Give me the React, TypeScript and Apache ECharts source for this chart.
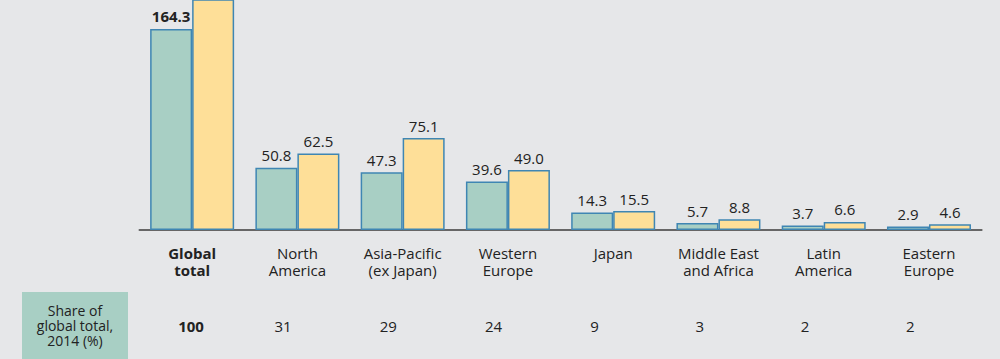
import React, { useEffect, useRef } from "react";
import * as echarts from "echarts";

const categories = [
  "Global\ntotal",
  "North\nAmerica",
  "Asia-Pacific\n(ex Japan)",
  "Western\nEurope",
  "Japan",
  "Middle East\nand Africa",
  "Latin\nAmerica",
  "Eastern\nEurope",
];
const series2014 = [164.3, 50.8, 47.3, 39.6, 14.3, 5.7, 3.7, 2.9];
const seriesLater = [222.1, 62.5, 75.1, 49.0, 15.5, 8.8, 6.6, 4.6];
const shareOfGlobal = [100, 31, 29, 24, 9, 3, 2, 2];
const shareTitle = "Share of\nglobal total,\n2014 (%)";

const FONT = "'Open Sans', 'Noto Sans', sans-serif";
const TEXT = "#222222";
const GREEN = "#a8cfc4";
const YELLOW = "#fedf98";
const BORDER = "#3f86b3";

export default function App() {
  const ref = useRef<HTMLDivElement>(null);
  useEffect(() => {
    if (!ref.current) return;
    const chart = echarts.init(ref.current, null, { renderer: "svg" });
    const baseline = 230;
    const yMax = 188; // visible part of the value axis (chart is cropped at top)
    chart.setOption({
      animation: false,
      backgroundColor: "#e6e7e9",
      textStyle: { fontFamily: FONT },
      grid: { left: 139.5, right: 18.4, top: 0, bottom: 359 - baseline },
      xAxis: [
        {
          type: "category",
          data: categories,
          axisLine: { show: true, lineStyle: { color: "#666666", width: 2 } },
          axisTick: { show: false },
          axisLabel: {
            interval: 0,
            margin: 14,
            color: TEXT,
            fontSize: 15,
            lineHeight: 17,
            fontFamily: FONT,
            formatter: (v: string, i: number) =>
              i === 0
                ? v
                    .split("\n")
                    .map((s) => `{b|${s}}`)
                    .join("\n")
                : v,
            rich: {
              b: { fontWeight: "bold", fontSize: 15, lineHeight: 17, color: TEXT, fontFamily: FONT },
            },
          },
        },
        {
          type: "category",
          gridIndex: 0,
          position: "bottom",
          offset: 80,
          data: categories,
          axisLine: { show: false },
          axisTick: { show: false },
          splitLine: { show: false },
          axisLabel: {
            interval: 0,
            margin: 7,
            color: TEXT,
            fontSize: 15,
            lineHeight: 18,
            formatter: (_v: string, i: number) =>
              i === 0 ? `{b|${shareOfGlobal[i]}}` : `{n|${shareOfGlobal[i]}}`,
            rich: {
              b: {
                fontWeight: "bold",
                fontSize: 15,
                width: 28,
                align: "left",
                color: TEXT,
                fontFamily: FONT,
              },
              n: { fontSize: 15, width: 46, align: "left", color: TEXT, fontFamily: FONT },
            },
          },
        },
      ],
      yAxis: {
        type: "value",
        min: 0,
        max: yMax,
        show: false,
        splitLine: { show: false },
      },
      series: [
        {
          type: "bar",
          data: series2014.map((v, i) => ({
            value: v,
            label: i === 0 ? { fontWeight: "bold" } : undefined,
          })),
          barWidth: 42,
          barGap: "0%",
          clip: true,
          itemStyle: { color: GREEN, borderColor: BORDER, borderWidth: 1.5 },
          label: {
            show: true,
            position: "top",
            distance: 5,
            color: TEXT,
            fontSize: 15,
            fontFamily: FONT,
            formatter: (p: any) => Number(p.value).toFixed(1),
          },
        },
        {
          type: "bar",
          data: seriesLater.map((v) => ({
            value: v,
            // value runs past the cropped top edge: its label is not visible
            label: v > yMax ? { show: false } : undefined,
          })),
          barWidth: 42,
          barGap: "0%",
          clip: true,
          itemStyle: { color: YELLOW, borderColor: BORDER, borderWidth: 1.5 },
          label: {
            show: true,
            position: "top",
            distance: 5,
            color: TEXT,
            fontSize: 15,
            fontFamily: FONT,
            formatter: (p: any) => Number(p.value).toFixed(1),
          },
        },
      ],
      graphic: [
        {
          type: "rect",
          shape: { x: 22, y: 292, width: 106, height: 67 },
          style: { fill: GREEN },
          silent: true,
        },
        {
          type: "text",
          x: 75,
          y: 325,
          style: {
            text: shareTitle,
            fill: TEXT,
            font: `14px ${FONT}`,
            lineHeight: 15,
            align: "center",
            verticalAlign: "middle",
          },
          silent: true,
        },
      ],
    });
    return () => chart.dispose();
  }, []);
  return (
    <div
      ref={ref}
      style={{ position: "absolute", left: 0, top: 0, width: 1000, height: 359 }}
    />
  );
}
